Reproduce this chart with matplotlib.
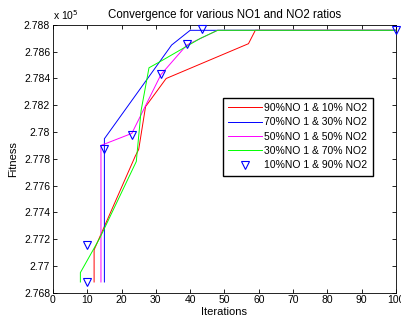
import numpy as np
import matplotlib.pyplot as plt

plt.rcParams['font.family'] = ['Liberation Sans', 'DejaVu Sans']

# fitness values are in units of 1e5
red_x = [12, 12, 24, 25, 27, 33, 57, 59, 100]
red_y = [2.7688, 2.7712, 2.7782, 2.7787, 2.7819, 2.7840, 2.7866, 2.7876, 2.7876]

blue_x = [15, 15, 34.6, 40, 100]
blue_y = [2.7688, 2.7795, 2.7865, 2.7876, 2.7876]

mag_x = [14, 14, 23, 31.5, 39, 48, 100]
mag_y = [2.7688, 2.7790, 2.7799, 2.7843, 2.7865, 2.7876, 2.7876]

green_x = [8, 8, 13.7, 24.3, 25.7, 28, 31.5, 43, 48, 100]
green_y = [2.7688, 2.7695, 2.7721, 2.7778, 2.7816, 2.7848, 2.7853, 2.7870, 2.7876, 2.7876]

tri_x = [10, 10, 15, 23, 31.5, 39, 43.5, 100]
tri_y = [2.7688, 2.7716, 2.7787, 2.7798, 2.7843, 2.7866, 2.7877, 2.7876]

labels = ['90%NO 1 & 10% NO2', '70%NO 1 & 30% NO2', '50%NO 1 & 50% NO2',
          '30%NO 1 & 70% NO2', '10%NO 1 & 90% NO2']

fig = plt.figure(figsize=(4.01, 3.24), dpi=100)
ax = fig.add_axes([0.132, 0.0966, 0.8555, 0.8264])

ax.plot(red_x, red_y, color='#ff0000', lw=0.7, label=labels[0])
ax.plot(blue_x, blue_y, color='#0000ff', lw=0.7, label=labels[1])
ax.plot(mag_x, mag_y, color='#ff00ff', lw=0.7, label=labels[2])
ax.plot(green_x, green_y, color='#00ff00', lw=0.7, label=labels[3])
ax.plot(tri_x, tri_y, 'v', ms=6, mfc='none', mec='#0000ff', mew=0.8,
        label=labels[4], zorder=5, clip_on=False)

ax.set_xlim(0, 100)
ax.set_ylim(2.768, 2.788)
ax.set_xticks(np.arange(0, 101, 10))
yt = np.arange(2.768, 2.7881, 0.002)
ax.set_yticks(yt)
ax.set_yticklabels(['%g' % round(v, 3) for v in yt])
ax.tick_params(direction='in', top=True, right=True, labelsize=7.5,
               length=3, width=0.6, pad=2)
for s in ax.spines.values():
    s.set_linewidth(0.6)

ax.set_title('Convergence for various NO1 and NO2 ratios', fontsize=8.3, pad=5)
ax.set_xlabel('Iterations', fontsize=8, labelpad=1)
ax.set_ylabel('Fitness', fontsize=8, labelpad=4)
ax.text(0, 1.01, r'x 10$^5$', transform=ax.transAxes, fontsize=7.5,
        ha='left', va='bottom')

ax.legend(loc='upper left', bbox_to_anchor=(0.495, 0.728), fontsize=7.5,
          frameon=True, fancybox=False, edgecolor='black', framealpha=1,
          handlelength=3.3, handletextpad=0.2, borderpad=0.5,
          labelspacing=0.42, borderaxespad=0)

fig.savefig('out.png', dpi=100)
